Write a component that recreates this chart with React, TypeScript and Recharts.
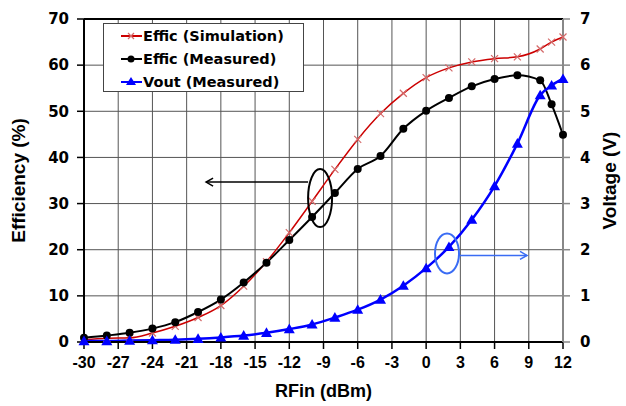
import * as React from "react";
import {
  LineChart,
  Line,
  XAxis,
  YAxis,
  CartesianGrid,
  ReferenceDot,
  ReferenceLine,
} from "recharts";

// RF input power (dBm)
const rfin: number[] = [
  -30, -28, -26, -24, -22, -20, -18, -16, -14, -12, -10, -8, -6, -4, -2, 0, 2, 4, 6, 8, 10, 11, 12,
];
const efficSim: number[] = [
  0.5, 0.8, 0.9, 1.95, 3.4, 5.3, 7.9, 12.1, 17.4, 23.7, 30.5, 37.4, 43.9, 49.5, 53.9, 57.3, 59.4,
  60.7, 61.4, 61.8, 63.5, 65.0, 66.1,
];
const efficMeas: number[] = [
  0.9, 1.4, 2.0, 2.9, 4.3, 6.5, 9.2, 12.9, 17.2, 22.1, 27.1, 32.3, 37.5, 40.3, 46.2, 50.1, 52.9,
  55.4, 57.0, 57.8, 56.7, 51.5, 44.9,
];
const voutMeas: number[] = [
  0.02, 0.02, 0.03, 0.04, 0.05, 0.07, 0.1, 0.14, 0.2, 0.28, 0.38, 0.53, 0.7, 0.92, 1.22, 1.6, 2.06,
  2.65, 3.38, 4.3, 5.35, 5.56, 5.7,
];

const xTicks = [-30, -27, -24, -21, -18, -15, -12, -9, -6, -3, 0, 3, 6, 9, 12];
const effTicks = [0, 10, 20, 30, 40, 50, 60, 70];
const voltTicks = [0, 1, 2, 3, 4, 5, 6, 7];

const data = rfin.map((x, i) => ({
  x,
  sim: efficSim[i],
  meas: efficMeas[i],
  vout: voutMeas[i],
}));

const font = "'Liberation Sans', Arial, sans-serif";
const wideFont = "'DejaVu Sans', sans-serif";
const tickStyle = { fontSize: 16, fontWeight: "bold", fill: "#000", fontFamily: font };
const yTickStyle = { ...tickStyle, fontSize: 15, fontFamily: wideFont };
const titleStyle = { ...tickStyle, fontSize: 18, textAnchor: "middle" };
const yTitleStyle = { ...titleStyle, fontSize: 19 };

const XMark = (props: any) => {
  const { cx, cy } = props;
  if (cx == null || cy == null) return null;
  const s = 3.5;
  return (
    <g stroke="#d46a6a" strokeWidth={1.2}>
      <line x1={cx - s} y1={cy - s} x2={cx + s} y2={cy + s} />
      <line x1={cx - s} y1={cy + s} x2={cx + s} y2={cy - s} />
    </g>
  );
};

const TriMark = (props: any) => {
  const { cx, cy } = props;
  if (cx == null || cy == null) return null;
  const s = 5.5;
  return (
    <polygon
      points={`${cx},${cy - s} ${cx + s},${cy + s * 0.75} ${cx - s},${cy + s * 0.75}`}
      fill="#0000ff"
    />
  );
};

const BlackNote = (props: any) => {
  const { cx, cy } = props;
  return (
    <g fill="none" stroke="#000" strokeWidth={2}>
      <ellipse cx={cx} cy={cy} rx={12} ry={29} />
      <line x1={cx - 12} y1={cy - 16} x2={cx - 114} y2={cy - 16} strokeWidth={1.5} />
      <polyline
        points={`${cx - 107},${cy - 20} ${cx - 114},${cy - 16} ${cx - 107},${cy - 12}`}
        strokeWidth={1.5}
      />
    </g>
  );
};

const BlueNote = (props: any) => {
  const { cx, cy } = props;
  return (
    <g fill="none" stroke="#3a6cf4" strokeWidth={2}>
      <ellipse cx={cx} cy={cy} rx={12} ry={20} />
      <line x1={cx + 12} y1={cy + 2} x2={cx + 80} y2={cy + 2} strokeWidth={1.5} />
      <polyline
        points={`${cx + 73},${cy - 2} ${cx + 80},${cy + 2} ${cx + 73},${cy + 6}`}
        strokeWidth={1.5}
      />
    </g>
  );
};

const legendItems = [
  { name: "Effic (Simulation)", color: "#cc0000", mark: "x" },
  { name: "Effic (Measured)", color: "#000", mark: "o" },
  { name: "Vout (Measured)", color: "#0000ff", mark: "t" },
];

const LegendBox = () => (
  <div
    style={{
      position: "absolute",
      left: 103,
      top: 23,
      width: 201,
      height: 69,
      border: "1px solid #444",
      background: "#fff",
      boxSizing: "border-box",
      fontFamily: wideFont,
      fontWeight: "bold",
      fontSize: 14.5,
    }}
  >
    {legendItems.map((it) => (
      <div key={it.name} style={{ display: "flex", alignItems: "center", height: 23 }}>
        <svg width={39} height={14}>
          <line x1={17} y1={7} x2={38} y2={7} stroke={it.color} strokeWidth={2} />
          {it.mark === "x" && (
            <g stroke="#d46a6a" strokeWidth={1.2}>
              <line x1={24} y1={4} x2={30} y2={10} />
              <line x1={24} y1={10} x2={30} y2={4} />
            </g>
          )}
          {it.mark === "o" && <circle cx={27} cy={7} r={3.5} fill="#000" />}
          {it.mark === "t" && <polygon points="27,2 32,10 22,10" fill="#0000ff" />}
        </svg>
        <span>{it.name}</span>
      </div>
    ))}
  </div>
);

export default function App() {
  return (
    <div style={{ position: "absolute", left: 0, top: 0, width: 626, height: 406, background: "#fff" }}>
      <LineChart
        width={626}
        height={406}
        data={data}
        margin={{ top: 19, right: 0, left: 0, bottom: 0 }}
      >
        <CartesianGrid
          yAxisId="eff"
          stroke="#555"
          strokeWidth={1}
          verticalValues={xTicks}
          horizontalValues={effTicks}
        />
        <XAxis
          dataKey="x"
          type="number"
          domain={[-30, 12]}
          ticks={xTicks}
          height={64}
          tick={tickStyle}
          tickSize={7}
          tickMargin={8}
          axisLine={{ stroke: "#000", strokeWidth: 2 }}
          tickLine={{ stroke: "#000", strokeWidth: 1.5 }}
          label={{
            value: "RFin (dBm)",
            position: "insideBottom",
            offset: 9,
            style: titleStyle,
          }}
        />
        <YAxis
          yAxisId="eff"
          domain={[0, 70]}
          ticks={effTicks}
          width={84}
          tick={yTickStyle}
          tickSize={7}
          tickMargin={8}
          axisLine={{ stroke: "#000", strokeWidth: 2 }}
          tickLine={{ stroke: "#000", strokeWidth: 1.5 }}
          label={{
            value: "Efficiency (%)",
            angle: -90,
            position: "insideLeft",
            offset: 18,
            style: yTitleStyle,
          }}
        />
        <YAxis
          yAxisId="volt"
          orientation="right"
          domain={[0, 7]}
          ticks={voltTicks}
          width={63}
          tick={yTickStyle}
          tickSize={7}
          tickMargin={10}
          axisLine={{ stroke: "#888", strokeWidth: 2 }}
          tickLine={{ stroke: "#888", strokeWidth: 1.5 }}
          label={{
            value: "Voltage (V)",
            angle: -90,
            position: "insideRight",
            offset: 17,
            style: yTitleStyle,
          }}
        />
        <ReferenceLine yAxisId="eff" y={70} stroke="#000" strokeWidth={2} />
        <Line
          yAxisId="eff"
          dataKey="sim"
          type="monotone"
          stroke="#cc0000"
          strokeWidth={1.5}
          dot={<XMark />}
          isAnimationActive={false}
        />
        <Line
          yAxisId="eff"
          dataKey="meas"
          type="monotone"
          stroke="#000"
          strokeWidth={2}
          dot={{ r: 4, fill: "#000", stroke: "#000", strokeWidth: 0 }}
          isAnimationActive={false}
        />
        <Line
          yAxisId="volt"
          dataKey="vout"
          type="monotone"
          stroke="#0000ff"
          strokeWidth={2.5}
          dot={<TriMark />}
          isAnimationActive={false}
        />
        <ReferenceDot yAxisId="eff" x={-9.3} y={31.2} shape={<BlackNote />} />
        <ReferenceDot yAxisId="eff" x={1.83} y={19.2} shape={<BlueNote />} />
      </LineChart>
      <LegendBox />
    </div>
  );
}
